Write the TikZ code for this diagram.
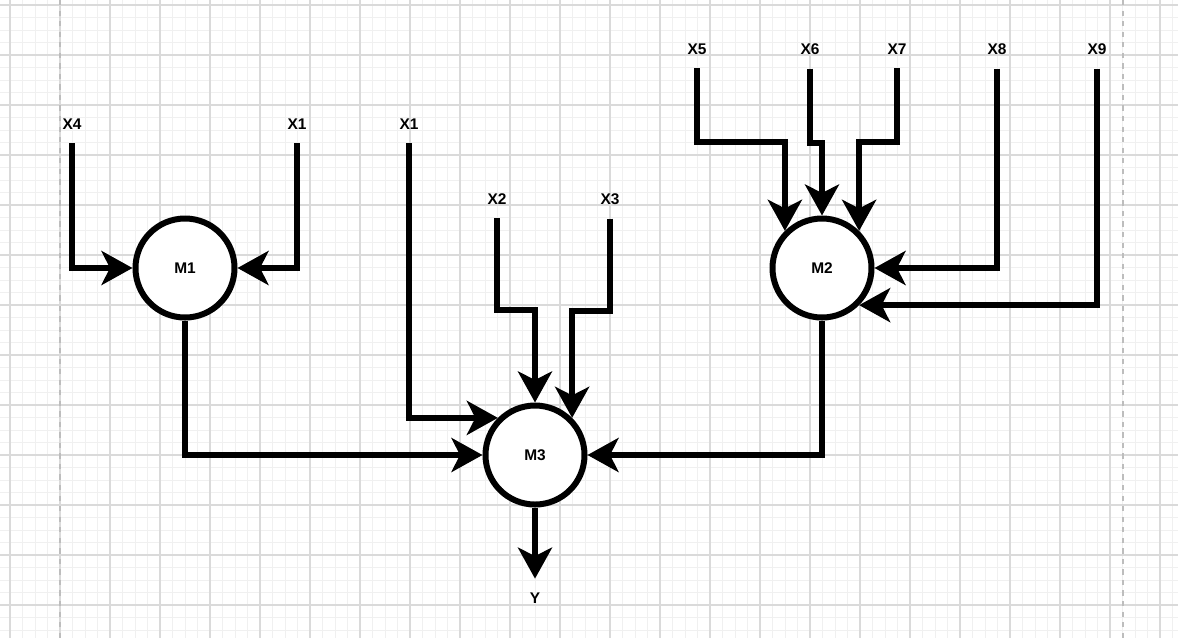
\documentclass[tikz,border=0pt]{standalone}
\usepackage{fontspec}
\setmainfont{Liberation Sans}
\usetikzlibrary{arrows.meta}
\definecolor{gridminorc}{HTML}{F0F0F0}
\definecolor{gridmajorc}{HTML}{DADADA}
\definecolor{pagec}{HTML}{BDBDBD}
\tikzset{
  model/.style={draw, circle, line width=1.2mm, minimum size=19.8mm, inner sep=0pt, fill=white, font=\fontsize{8.8}{10}\selectfont\bfseries},
  var/.style={inner sep=0pt, outer ysep=8pt, font=\fontsize{8.8}{10}\selectfont\bfseries},
  wire/.style={line width=1.2mm, -{Stealth[length=6.2mm, width=6.8mm, inset=1.7mm]}},
  gridminor/.style={draw=gridminorc, line width=0.5pt},
  gridmajor/.style={draw=gridmajorc, line width=0.6pt},
  pageline/.style={draw=pagec, dashed, line width=0.6pt}
}
\begin{document}
\begin{tikzpicture}[x=0.2mm, y=-0.2mm]
    \useasboundingbox (0,0) rectangle (1178,638);
    \fill[white] (0,0) rectangle (1178,638);
    % background grid
    \foreach \gx in {0,...,93} \draw[gridminor] ({10+12.5*\gx},0) -- ({10+12.5*\gx},638);
    \foreach \gy in {0,...,50} \draw[gridminor] (0,{5+12.5*\gy}) -- (1178,{5+12.5*\gy});
    \foreach \gx in {0,...,23} \draw[gridmajor] ({10+50*\gx},0) -- ({10+50*\gx},638);
    \foreach \gy in {0,...,12} \draw[gridmajor] (0,{5+50*\gy}) -- (1178,{5+50*\gy});
    \draw[pageline] (60,0) -- (60,638);
    \draw[pageline] (1123,0) -- (1123,638);

    % models
    \node[model] (m1) at (185,268) {M1};
    \node[model] (m2) at (822,268) {M2};
    \node[model] (m3) at (535,455) {M3};

    % inputs and output
    \node[var] (x4) at (72,124) {X4};
    \node[var] (x1a) at (297,124) {X1};
    \node[var] (x1b) at (409,124) {X1};
    \node[var] (x2) at (497,199) {X2};
    \node[var] (x3) at (610,199) {X3};
    \node[var] (x5) at (697,49) {X5};
    \node[var] (x6) at (810,49) {X6};
    \node[var] (x7) at (897,49) {X7};
    \node[var] (x8) at (997,49) {X8};
    \node[var] (x9) at (1097,49) {X9};
    \node[var] (y) at (535,598) {Y};

    \draw[wire] (x4.south) |- (m1.west);
    \draw[wire] (x1a.south) |- (m1.east);
    \draw[wire] (x1b.south) |- (m3.north west);
    \draw[wire] (x2.south) -- ++(0,92) -| (m3.north);
    \draw[wire] (x3.south) -- ++(0,92) -| (m3.north east);
    \draw[wire] (x5.south) -- ++(0,74) -| (m2.north west);
    \draw[wire] (x6.south) -- ++(0,74) -| (m2.north);
    \draw[wire] (x7.south) -- ++(0,74) -| (m2.north east);
    \draw[wire] (x8.south) |- (m2.east);
    \draw[wire] (x9.south) |- (m2.south east);
    \draw[wire] (m1.south) |- (m3.west);
    \draw[wire] (m2.south) |- (m3.east);
    \draw[wire] (m3.south) -- (y.north);
\end{tikzpicture}
\end{document}
